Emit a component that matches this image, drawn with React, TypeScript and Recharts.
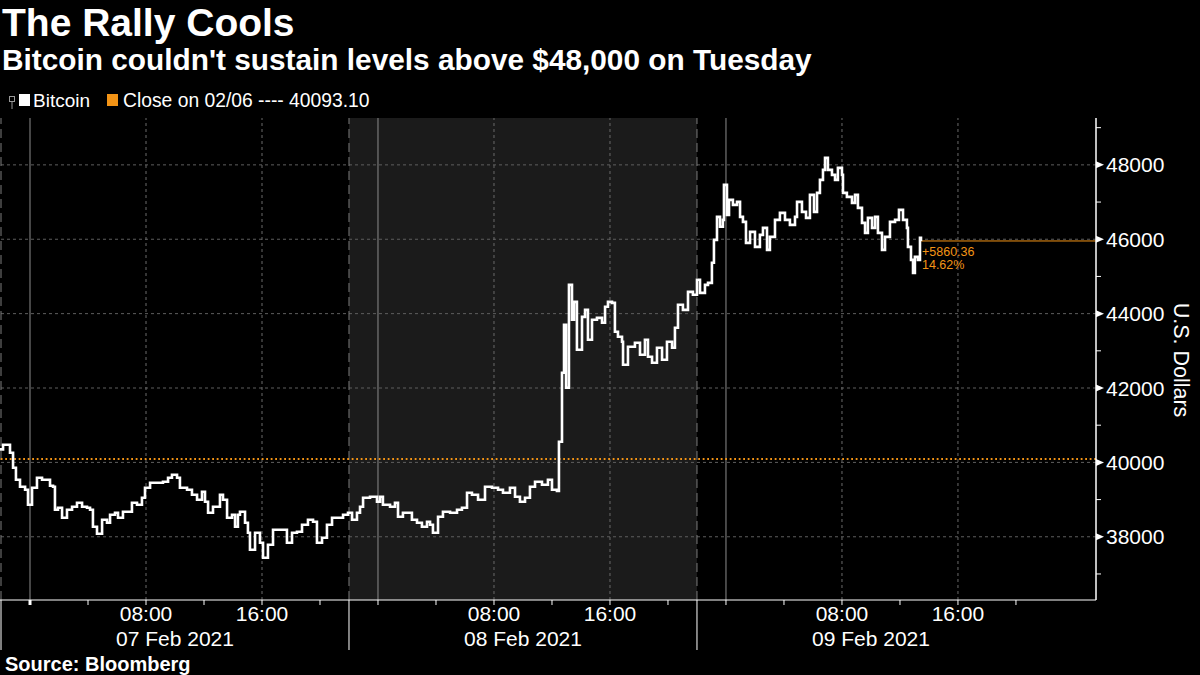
import React from "react";
import {
  LineChart,
  Line,
  XAxis,
  YAxis,
  ReferenceLine,
  ReferenceArea,
  ReferenceDot,
} from "recharts";

// hours since 00:00 07 Feb 2021
const hours = [
  -2.07, -1.86, -1.38, -1.17, -0.97, -0.69, -0.34, -0.14, 0.14, 0.48, 0.83, 1.17, 1.38, 1.59, 1.72, 1.93,
  2.21, 2.55, 2.9, 3.24, 3.59, 3.93, 4.14, 4.34, 4.62, 4.97, 5.31, 5.52, 5.86, 6.07, 6.41, 6.76,
  7.03, 7.38, 7.72, 7.93, 8.28, 8.76, 9.17, 9.52, 9.79, 10.14, 10.34, 10.83, 11.17, 11.52, 11.86, 12.07,
  12.28, 12.62, 13.1, 13.31, 13.59, 13.93, 14.14, 14.34, 14.48, 14.83, 15.03, 15.17, 15.52, 15.86, 16.07, 16.41,
  16.76, 17.24, 17.72, 18.07, 18.41, 18.76, 19.17, 19.52, 19.79, 20.14, 20.48, 20.83, 21.17, 21.59, 21.93, 22.21,
  22.55, 22.76, 22.97, 23.45, 23.93, 24.14, 24.34, 24.83, 25.17, 25.38, 25.72, 26.07, 26.34, 26.69, 27.03, 27.38,
  27.59, 27.79, 28.14, 28.48, 28.97, 29.45, 29.79, 30.14, 30.48, 30.9, 31.38, 31.86, 32.28, 32.62, 33.1, 33.45,
  33.79, 34.14, 34.48, 34.83, 35.31, 35.72, 36.0, 36.34, 36.48, 36.69, 36.83, 36.97, 37.17, 37.38, 37.52, 37.72,
  38.07, 38.28, 38.48, 38.76, 39.1, 39.45, 39.66, 39.86, 40.14, 40.34, 40.55, 40.83, 40.9, 41.24, 41.72, 42.07,
  42.41, 42.62, 42.9, 43.24, 43.59, 43.93, 44.28, 44.48, 44.69, 45.03, 45.38, 45.72, 46.0, 46.21, 46.55, 46.76,
  47.03, 47.17, 47.38, 47.59, 47.79, 47.86, 48.07, 48.21, 48.48, 48.76, 48.97, 49.17, 49.38, 49.66, 50.0, 50.34,
  50.55, 50.83, 51.03, 51.38, 51.72, 52.07, 52.41, 52.76, 52.9, 53.24, 53.52, 53.79, 54.07, 54.28, 54.48, 54.69,
  54.83, 55.03, 55.31, 55.52, 55.72, 56.0, 56.07, 56.34, 56.69, 56.9, 57.1, 57.38, 57.59, 57.79, 58.07, 58.28,
  58.48, 58.76, 58.97, 59.31, 59.66, 59.93, 60.21, 60.48, 60.55, 60.76, 60.9, 61.03, 61.24, 61.38, 61.45,
];

const prices = [
  40350, 40474, 40259, 39855, 39533, 39345, 39264, 38861, 39318, 39587, 39533, 39533, 39371, 39345, 38726, 38780,
  38511, 38726, 38807, 38915, 38807, 38780, 38726, 38269, 38081, 38458, 38377, 38592, 38646, 38511, 38673, 38673,
  38915, 38861, 39049, 39318, 39452, 39452, 39479, 39587, 39667, 39587, 39318, 39264, 39130, 38996, 39210, 38942,
  38646, 38807, 39130, 38996, 38511, 38592, 38269, 38592, 38673, 38377, 38108, 37651, 38108, 37839, 37436, 37786,
  38189, 38189, 37839, 38108, 38135, 38323, 38458, 38404, 37839, 37974, 38323, 38511, 38511, 38592, 38646, 38458,
  38646, 38807, 39049, 39076, 38942, 39076, 38861, 38807, 38915, 38538, 38646, 38646, 38458, 38377, 38269, 38404,
  38323, 38108, 38538, 38673, 38646, 38726, 38780, 39184, 39130, 38996, 39345, 39318, 39264, 39184, 39318, 39076,
  38942, 39049, 39345, 39479, 39398, 39533, 39264, 39230, 40554, 42409, 43699, 42006, 44774, 43834, 44317, 43027,
  43914, 44102, 43296, 43834, 43887, 43753, 44183, 44317, 44290, 43511, 43377, 43242, 42624, 43108, 43215, 42893,
  43296, 42839, 42678, 43081, 42758, 43242, 43081, 43619, 44237, 44102, 44586, 44506, 44909, 44559, 44774, 44828,
  45366, 45984, 46602, 46334, 46522, 47462, 46656, 47059, 46925, 47005, 46602, 46468, 45903, 46199, 45796, 46118,
  46306, 45715, 46065, 46522, 46710, 46522, 46387, 46602, 47005, 46737, 46575, 47194, 46737, 47247, 47597, 47866,
  48188, 47866, 47731, 47597, 47919, 47731, 47247, 47140, 46979, 47194, 46844, 46441, 46172, 46575, 46306, 46602,
  46172, 45715, 46065, 46468, 46522, 46791, 46522, 46306, 45796, 45446, 45097, 45527, 45446, 46038, 45953.46,
];

const closeRef = 40093.1;

const hourTicks = [0, 4, 8, 12, 16, 20, 24, 28, 32, 36, 40, 44, 48, 52, 56, 60, 64, 68];
const dayBounds = [-2, 22, 46];
const dayCenters = [10, 34, 58];
const dayLabels = ["07 Feb 2021", "08 Feb 2021", "09 Feb 2021"];
const midnights = [0, 24, 48];
const gridHours = [8, 16, 32, 40, 56, 64];
const priceTicks = [37000, 38000, 39000, 40000, 41000, 42000, 43000, 44000, 45000, 46000, 47000, 48000, 49000];
const priceGrid = [38000, 40000, 42000, 44000, 46000, 48000];

const data = hours.map((h, i) => ({ h, price: prices[i] }));
const lastHour = hours[hours.length - 1];
const lastPrice = prices[prices.length - 1];
const change = lastPrice - closeRef;
const pct = (change / closeRef) * 100;

const FONT = "'Liberation Sans', Arial, sans-serif";
const ORANGE = "#f39416";

const XTick = (props: any) => {
  const { x, y, payload } = props;
  const v = payload.value;
  if (dayBounds.includes(v)) {
    return <line x1={x} x2={x} y1={y} y2={y + 50} stroke="#fff" strokeWidth={1} />;
  }
  const di = dayCenters.indexOf(v);
  if (di >= 0) {
    return (
      <text x={x} y={y + 46} textAnchor="middle" fill="#fff" fontSize={21} fontFamily={FONT}>
        {dayLabels[di]}
      </text>
    );
  }
  const hod = ((v % 24) + 24) % 24;
  return (
    <g>
      <line x1={x} x2={x} y1={y} y2={y + 5} stroke="#fff" strokeWidth={v === 0 ? 3 : 1} />
      {(hod === 8 || hod === 16) && (
        <text x={x} y={y + 21} textAnchor="middle" fill="#fff" fontSize={21} fontFamily={FONT}>
          {hod === 8 ? "08:00" : "16:00"}
        </text>
      )}
    </g>
  );
};

const YTick = (props: any) => {
  const { x, y, payload } = props;
  const v = payload.value;
  if (v % 2000 !== 0) {
    return <line x1={x} x2={x + 5} y1={y} y2={y} stroke="#fff" strokeWidth={1} />;
  }
  return (
    <g>
      <path d={`M${x},${y - 3.5}L${x + 8},${y}L${x},${y + 3.5}Z`} fill="#fff" />
      <text x={x + 10} y={y} dy="0.36em" fill="#fff" fontSize={21} fontFamily={FONT}>
        {v}
      </text>
    </g>
  );
};

const ChangeLabel = (props: any) => {
  const vb = props.viewBox || {};
  const cx = vb.x + (vb.width || 0) / 2;
  const cy = vb.y + (vb.height || 0) / 2;
  return (
    <g fontFamily={FONT} fontSize={12.5} fill={ORANGE}>
      <text x={cx + 1} y={cy + 15}>+{change.toFixed(2)}</text>
      <text x={cx + 1} y={cy + 28}>{pct.toFixed(2)}%</text>
    </g>
  );
};

export default function App() {
  return (
    <div style={{ position: "relative", width: 1200, height: 675, background: "#000", overflow: "hidden" }}>
      <style>{`body{margin:0;background:#000}`}</style>
      <LineChart
        width={1200}
        height={675}
        data={data}
        margin={{ top: 118, right: 0, bottom: 0, left: 0 }}
      >
        <XAxis
          dataKey="h"
          type="number"
          domain={[-2.07, 73.52]}
          ticks={[...dayBounds, ...hourTicks, ...dayCenters].sort((a, b) => a - b)}
          interval={0}
          height={75}
          tickSize={0}
          tickMargin={0}
          tickLine={false}
          axisLine={{ stroke: "#fff", strokeWidth: 1 }}
          tick={<XTick />}
          allowDataOverflow
        />
        <YAxis
          orientation="right"
          type="number"
          domain={[36300, 49260]}
          ticks={priceTicks}
          interval={0}
          width={104}
          tickSize={0}
          tickMargin={0}
          tickLine={false}
          axisLine={{ stroke: "#fff", strokeWidth: 1.5 }}
          tick={<YTick />}
          allowDataOverflow
        />
        <ReferenceArea x1={22} x2={46} fill="#1b1b1b" fillOpacity={1} stroke="none" />
        {priceGrid.map((v) => (
          <ReferenceLine key={"hy" + v} y={v} stroke="#5e5e5e" strokeDasharray="3 3" />
        ))}
        {gridHours.map((v) => (
          <ReferenceLine key={"gx" + v} x={v} stroke="#6a6a6a" strokeDasharray="3 3" />
        ))}
        {midnights.map((v) => (
          <ReferenceLine key={"mx" + v} x={v} stroke="#8c8c8c" />
        ))}
        {dayBounds.map((v) => (
          <ReferenceLine key={"bx" + v} x={v} stroke="#7c7c7c" strokeDasharray="9 5" />
        ))}
        <ReferenceLine y={closeRef} stroke={ORANGE} strokeWidth={2} strokeDasharray="1.8 2.7" />
        <ReferenceLine
          segment={[
            { x: lastHour, y: lastPrice },
            { x: 73.52, y: lastPrice },
          ]}
          stroke={ORANGE}
          strokeWidth={1}
        />
        <Line
          type="stepAfter"
          dataKey="price"
          stroke="#ffffff"
          strokeWidth={2.6}
          dot={false}
          isAnimationActive={false}
        />
        <ReferenceDot x={lastHour} y={lastPrice} r={1} fill="none" stroke="none" label={<ChangeLabel />} />
      </LineChart>
      <svg
        width={1200}
        height={675}
        style={{ position: "absolute", left: 0, top: 0, pointerEvents: "none" }}
        fontFamily={FONT}
      >
        <text x={2} y={36} fill="#fff" fontSize={39} fontWeight="bold">
          The Rally Cools
        </text>
        <text x={2} y={70} fill="#fff" fontSize={29.8} fontWeight="bold">
          Bitcoin couldn't sustain levels above $48,000 on Tuesday
        </text>
        <rect x={9.5} y={96.5} width={5} height={5} fill="none" stroke="#999" strokeWidth={1} />
        <line x1={12} x2={12} y1={101.5} y2={109} stroke="#999" strokeWidth={1} />
        <rect x={19} y={94} width={11} height={12} fill="#fff" />
        <text x={33} y={107} fill="#fff" fontSize={19}>
          Bitcoin
        </text>
        <rect x={107} y={94} width={11} height={12} fill={ORANGE} />
        <text x={123} y={107} fill="#fff" fontSize={19.3}>
          {`Close on 02/06 ---- ${closeRef.toFixed(2)}`}
        </text>
        <text
          transform="translate(1182,360) rotate(90)"
          textAnchor="middle"
          dy="0.35em"
          fill="#fff"
          fontSize={21.5}
        >
          U.S. Dollars
        </text>
        <text x={5} y={671} fill="#fff" fontSize={20} fontWeight="bold">
          Source:  Bloomberg
        </text>
      </svg>
    </div>
  );
}
